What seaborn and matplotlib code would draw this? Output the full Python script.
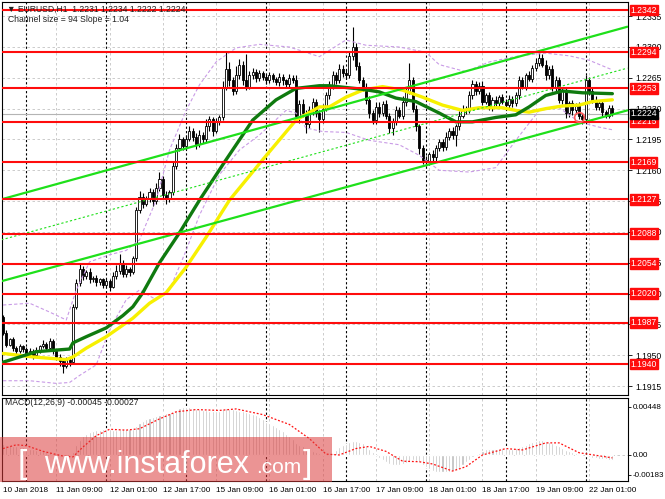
import numpy as np
import matplotlib
matplotlib.use("Agg")
import matplotlib.pyplot as plt
import seaborn as sns
from matplotlib.patches import Rectangle
from matplotlib.transforms import blended_transform_factory

# EURUSD H1, 10 Jan 17:00 -> 22 Jan 08:00, one list per trading day
first_open = 1.1993
close_jan10 = [1.1975, 1.1962, 1.1968, 1.1958, 1.1955, 1.1960, 1.1957]
close_jan11 = [1.1952, 1.1955, 1.1950, 1.1956, 1.1960, 1.1963, 1.1958, 1.1966,
               1.1955, 1.1948, 1.1943, 1.1938, 1.1945, 1.1942, 1.2005, 1.2032,
               1.2048, 1.2040, 1.2045, 1.2036, 1.2038, 1.2033, 1.2036, 1.2030]
close_jan12 = [1.2034, 1.2028, 1.2040, 1.2046, 1.2055, 1.2042, 1.2048, 1.2044,
               1.2060, 1.2115, 1.2130, 1.2122, 1.2128, 1.2135, 1.2125, 1.2140,
               1.2150, 1.2132, 1.2128, 1.2135, 1.2165, 1.2185, 1.2195, 1.2188]
close_jan15 = [1.2196, 1.2205, 1.2198, 1.2190, 1.2200, 1.2195, 1.2210, 1.2218,
               1.2205, 1.2215, 1.2220, 1.2255, 1.2275, 1.2262, 1.2250, 1.2268,
               1.2280, 1.2262, 1.2255, 1.2268, 1.2272, 1.2265, 1.2270, 1.2266]
close_jan16 = [1.2262, 1.2268, 1.2264, 1.2260, 1.2266, 1.2262, 1.2258, 1.2265,
               1.2262, 1.2222, 1.2235, 1.2225, 1.2212, 1.2228, 1.2238, 1.2225,
               1.2218, 1.2230, 1.2245, 1.2255, 1.2268, 1.2262, 1.2275, 1.2270]
close_jan17 = [1.2268, 1.2290, 1.2300, 1.2278, 1.2262, 1.2254, 1.2240, 1.2225,
               1.2217, 1.2232, 1.2225, 1.2235, 1.2222, 1.2208, 1.2215, 1.2228,
               1.2222, 1.2238, 1.2250, 1.2262, 1.2230, 1.2210, 1.2185, 1.2172]
close_jan18 = [1.2170, 1.2178, 1.2175, 1.2185, 1.2192, 1.2186, 1.2198, 1.2205,
               1.2200, 1.2210, 1.2222, 1.2230, 1.2228, 1.2245, 1.2258, 1.2250,
               1.2256, 1.2238, 1.2245, 1.2232, 1.2240, 1.2236, 1.2243, 1.2238]
close_jan19 = [1.2234, 1.2241, 1.2236, 1.2245, 1.2262, 1.2255, 1.2268, 1.2264,
               1.2276, 1.2282, 1.2288, 1.2280, 1.2268, 1.2275, 1.2255, 1.2262,
               1.2240, 1.2250, 1.2225, 1.2236, 1.2228, 1.2233, 1.2222, 1.2218]
close_jan22 = [1.2262, 1.2250, 1.2240, 1.2232, 1.2236, 1.2226, 1.2222, 1.2231, 1.2224]

# upper / lower shadows beyond the body, in pips
wick_hi = [3, 4, 2, 3, 2, 3, 2,
           2, 3, 2, 3, 2, 4, 2, 3, 2, 2, 3, 2, 3, 2, 3, 4, 5, 3, 2, 4, 2, 3, 2, 2,
           3, 2, 4, 6, 10, 3, 4, 2, 3, 3, 6, 4, 3, 5, 4, 6, 8, 3, 4, 3, 4, 5, 6, 3,
           4, 5, 3, 4, 6, 3, 8, 4, 3, 4, 3, 6, 21, 8, 4, 10, 6, 4, 30, 5, 4, 3, 4, 3,
           3, 4, 3, 2, 4, 3, 2, 4, 3, 6, 5, 6, 4, 5, 4, 3, 4, 5, 4, 6, 5, 4, 6, 4,
           5, 4, 23, 4, 5, 4, 5, 4, 3, 6, 5, 4, 5, 3, 4, 5, 4, 6, 4, 20, 4, 4, 3, 4,
           4, 3, 5, 4, 3, 4, 5, 3, 4, 3, 5, 4, 3, 5, 4, 3, 4, 5, 3, 4, 3, 4, 3, 4,
           3, 4, 3, 4, 5, 4, 3, 5, 4, 6, 7, 4, 5, 3, 4, 5, 4, 3, 4, 3, 4, 3, 4, 3,
           6, 4, 3, 4, 3, 4, 3, 3, 3]
wick_lo = [2, 3, 2, 3, 4, 2, 3,
           3, 2, 4, 2, 3, 2, 3, 2, 4, 3, 5, 8, 3, 4, 2, 3, 3, 5, 3, 4, 3, 4, 3, 4,
           3, 5, 2, 3, 4, 3, 3, 4, 2, 3, 4, 5, 3, 4, 6, 3, 4, 5, 6, 4, 3, 4, 3, 5,
           4, 3, 5, 6, 3, 4, 3, 5, 6, 3, 4, 3, 4, 6, 5, 3, 4, 5, 4, 3, 4, 5, 4, 3,
           4, 3, 4, 3, 4, 5, 3, 4, 3, 6, 8, 5, 10, 4, 5, 4, 15, 4, 3, 4, 3, 4, 3, 4,
           4, 3, 5, 4, 3, 4, 5, 6, 4, 5, 4, 3, 4, 6, 8, 4, 3, 4, 5, 3, 4, 5, 6, 5,
           5, 4, 5, 4, 3, 4, 3, 4, 5, 12, 4, 3, 4, 3, 4, 5, 3, 4, 3, 4, 5, 3, 4, 3,
           4, 3, 4, 3, 4, 3, 4, 3, 4, 3, 4, 3, 5, 4, 5, 6, 4, 5, 6, 4, 5, 4, 4, 5,
           4, 5, 4, 3, 4, 5, 3, 3, 2]

# moving averages (bar index, price)
ma_fast_bar = [0, 10, 20, 21, 25, 31, 36, 39, 42, 47, 53, 59, 67, 75, 82, 88, 95,
               98, 108, 113, 118, 124, 131, 136, 141, 148, 154, 158, 163, 168, 174, 183]
ma_fast_val = [1.1942, 1.1954, 1.1957, 1.1964, 1.1971, 1.1981, 1.1995, 1.2005, 1.2021,
               1.2055, 1.2089, 1.2126, 1.2172, 1.2217, 1.2240, 1.2253, 1.2256, 1.2256,
               1.2252, 1.2249, 1.2242, 1.2238, 1.2225, 1.2215, 1.2215, 1.2220, 1.2223,
               1.2232, 1.2245, 1.2250, 1.2248, 1.2247]
ma_slow_bar = [0, 9, 19, 21, 25, 31, 39, 44, 49, 55, 61, 68, 78, 88, 95, 98, 103, 108,
               114, 120, 126, 132, 138, 143, 150, 154, 158, 163, 168, 173, 177, 183]
ma_slow_val = [1.1952, 1.1948, 1.1945, 1.1948, 1.1958, 1.1971, 1.1992, 1.2009, 1.2021,
               1.2050, 1.2084, 1.2126, 1.2172, 1.2217, 1.2232, 1.2232, 1.2243, 1.2251,
               1.2255, 1.2251, 1.2243, 1.2234, 1.2228, 1.2231, 1.2231, 1.2228, 1.2226,
               1.2230, 1.2233, 1.2234, 1.2238, 1.2240]

# envelope bands (dashed lavender)
band_up_bar = [0, 8, 14, 19, 22, 26, 32, 37, 41, 46, 50, 55, 59, 64, 70, 77, 86, 95,
               103, 109, 119, 127, 131, 139, 146, 155, 163, 170, 176, 183]
band_up_val = [1.2007, 1.2009, 1.1999, 1.1990, 1.2024, 1.2056, 1.2064, 1.2069, 1.2081,
               1.2126, 1.2183, 1.2228, 1.2257, 1.2283, 1.2299, 1.2303, 1.2300, 1.2289,
               1.2308, 1.2302, 1.2300, 1.2294, 1.2280, 1.2272, 1.2283, 1.2290, 1.2293,
               1.2290, 1.2285, 1.2274]
band_dn_bar = [0, 8, 16, 20, 23, 28, 32, 37, 41, 46, 50, 55, 59, 65, 71, 77, 85, 88,
               91, 96, 103, 110, 119, 125, 131, 140, 148, 154, 161, 167, 173, 179, 183]
band_dn_val = [1.1921, 1.1921, 1.1918, 1.1919, 1.1927, 1.1939, 1.1979, 1.2013, 1.2024,
               1.2013, 1.2024, 1.2069, 1.2109, 1.2155, 1.2183, 1.2200, 1.2228, 1.2225,
               1.2208, 1.2204, 1.2203, 1.2194, 1.2189, 1.2177, 1.2160, 1.2158, 1.2163,
               1.2194, 1.2228, 1.2231, 1.2215, 1.2209, 1.2206]

# equidistant channel (left edge, right edge)
chan_bar = [-0.5, 187.5]
chan_upper = [1.2127, 1.2323]
chan_mid = [1.2081, 1.2276]
chan_lower = [1.2034, 1.2228]

levels = [1.2342, 1.2294, 1.2253, 1.2215, 1.2169, 1.2127, 1.2088, 1.2054, 1.2020, 1.1987, 1.1940]
price_ticks = [1.1915, 1.1950, 1.1985, 1.2020, 1.2055, 1.2090, 1.2125, 1.2160,
               1.2195, 1.2230, 1.2265, 1.2300, 1.2335]
bid_price = 1.2224
alert_bar, alert_price = 173, 1.2220

# MACD(12,26,9) main values, 1e-5 units
macd_main = [100, 95, 90, 85, 80, 75, 70,
             65, 58, 52, 45, 40, 35, 30, 26, 20, 14, 8, 2, -3, -6, 30, 90, 140, 175,
             200, 215, 225, 232, 236, 238,
             240, 238, 236, 235, 240, 242, 240, 238, 245, 270, 300, 320, 335, 345,
             355, 365, 375, 385, 390, 395, 405, 420, 435, 445,
             448, 445, 440, 432, 425, 420, 418, 415, 410, 408, 412, 425, 435, 432,
             425, 420, 415, 410, 405, 395, 385, 370, 355, 340,
             311, 295, 280, 262, 245, 225, 200, 175, 145, 113, 95, 80, 65, 50, 38,
             28, 21, 12, 2, -8, 20, 45, 70, 90,
             105, 120, 128, 132, 125, 110, 85, 60, 30, 0, -25, -50, -70, -85, -95,
             -97, -90, -85, -75, -60, -50, -55, -70, -90,
             -110, -130, -145, -155, -160, -163, -160, -155, -150, -140, -120, -95,
             -70, -45, -20, 0, 20, 40, 55, 60, 60, 58, 60, 62,
             62, 60, 58, 62, 70, 80, 95, 110, 120, 130, 138, 140, 135, 125, 110, 95,
             80, 65, 50, 40, 30, 20, 10, 0,
             -10, -20, -25, -30, -35, -38, -40, -43, -45]
signal_bar = [0, 4, 7, 12, 18, 21, 24, 28, 32, 37, 41, 47, 52, 58, 65, 70, 78, 86, 92,
              97, 101, 106, 110, 115, 120, 125, 129, 135, 139, 144, 151, 156, 163, 167,
              173, 183]
signal_val = [60, 95, 87, 34, -10, -18, 74, 180, 240, 232, 245, 337, 403, 424, 416, 430,
              377, 285, 153, 8, 0, 60, 80, 34, -58, -63, -84, -150, -110, 0, 60, 47,
              113, 113, 21, -27]

tick_bars = [0, 16, 32, 48, 64, 80, 96, 112, 128, 144, 160, 176]
tick_labels = ["10 Jan 2018", "11 Jan 09:00", "12 Jan 01:00", "12 Jan 17:00",
               "15 Jan 09:00", "16 Jan 01:00", "16 Jan 17:00", "17 Jan 09:00",
               "18 Jan 01:00", "18 Jan 17:00", "19 Jan 09:00", "22 Jan 01:00"]
day_bars = [7, 31, 55, 79, 103, 127, 151, 175]

# ---- assemble candles ----
closes = np.array(close_jan10 + close_jan11 + close_jan12 + close_jan15 + close_jan16
                  + close_jan17 + close_jan18 + close_jan19 + close_jan22)
bars = np.arange(len(closes))
opens = np.r_[first_open, closes[:-1]]
highs = np.maximum(opens, closes) + np.array(wick_hi) * 1e-4
lows = np.minimum(opens, closes) - np.array(wick_lo) * 1e-4
bull = closes >= opens

sns.set_theme(style="white")
plt.rcParams["font.family"] = ["Liberation Sans", "DejaVu Sans"]
fs = 6.2

fig = plt.figure(figsize=(6.65, 4.99), dpi=100)
ax = fig.add_axes([2 / 665, 104 / 499, 626 / 665, 393 / 499])
axm = fig.add_axes([2 / 665, 18 / 499, 626 / 665, 83 / 499], sharex=ax)

grid_kw = dict(color="#c4c4c4", lw=0.6, ls=(0, (3, 3)), zorder=0)
sep_kw = dict(color="black", lw=0.8, ls=(0, (2, 2)), zorder=1)
for a in (ax, axm):
    for b in tick_bars[1:]:
        a.axvline(b, **grid_kw)
    for b in day_bars:
        a.axvline(b, **sep_kw)
    for s in a.spines.values():
        s.set_color("black")
        s.set_linewidth(0.8)
for p in price_ticks:
    ax.axhline(p, **grid_kw)
ax.axhline(bid_price, color="#b4b4b4", lw=0.8, zorder=2)

# candles
ax.vlines(bars, lows, highs, color="black", lw=0.8, zorder=3)
body = np.maximum(np.abs(closes - opens), 0.00004)
ax.bar(bars, body, bottom=np.minimum(opens, closes), width=0.62,
       color=np.where(bull, "white", "black"), edgecolor="black", linewidth=0.6, zorder=4)

# indicators
band_kw = dict(color="#c99be6", lw=0.8, linestyle=(0, (3, 2)), zorder=5)
sns.lineplot(x=band_up_bar, y=band_up_val, ax=ax, **band_kw)
sns.lineplot(x=band_dn_bar, y=band_dn_val, ax=ax, **band_kw)
sns.lineplot(x=ma_slow_bar, y=ma_slow_val, ax=ax, color="#f7f000", lw=2.4, zorder=6)
sns.lineplot(x=ma_fast_bar, y=ma_fast_val, ax=ax, color="#0f7a0f", lw=2.4, zorder=6)
sns.lineplot(x=chan_bar, y=chan_upper, ax=ax, color="#1ee01a", lw=1.6, zorder=7)
sns.lineplot(x=chan_bar, y=chan_lower, ax=ax, color="#1ee01a", lw=1.6, zorder=7)
sns.lineplot(x=chan_bar, y=chan_mid, ax=ax, color="#1ee01a", lw=0.8,
             linestyle=(0, (2, 2)), zorder=7)
ax.plot(alert_bar, alert_price, "o", mfc="none", mec="#ff5a5a", ms=7, mew=1.2, zorder=9)

ylab = blended_transform_factory(ax.transAxes, ax.transData)
box = dict(boxstyle="square,pad=0.08")
for lv in levels:
    ax.axhline(lv, color="#ff0c0c", lw=1.5, zorder=8)
    ax.text(1.004, lv, f"{lv:.4f}", transform=ylab, ha="left", va="center",
            fontsize=fs, color="white", zorder=20, clip_on=False,
            bbox=dict(box, fc="#ff0c0c", ec="#ff0c0c"))
ax.text(1.004, bid_price, f"{bid_price:.4f}", transform=ylab, ha="left", va="center",
        fontsize=fs, color="white", zorder=21, clip_on=False,
        bbox=dict(box, fc="black", ec="black"))

ax.set_ylim(1.19048, 1.23511)
ax.set_xlim(-0.3, 187.7)
ax.set_xlabel("")
ax.set_ylabel("")
ax.yaxis.tick_right()
ax.set_yticks(price_ticks)
ax.set_yticklabels([f"{p:.4f}" for p in price_ticks])
ax.tick_params(axis="y", labelsize=fs, length=3, width=0.6, pad=2, colors="black")
ax.tick_params(axis="x", bottom=False, labelbottom=False)

ax.text(0.008, 0.982, "\u25bc EURUSD,H1  1.2231 1.2234 1.2222 1.2224", transform=ax.transAxes,
        fontsize=fs, va="center", ha="left", zorder=10, color="#202020")
ax.text(0.01, 0.955, "Channel size = 94 Slope = 1.04", transform=ax.transAxes,
        fontsize=fs, va="center", ha="left", zorder=10, color="#202020")

# MACD pane
axm.bar(bars, np.array(macd_main) * 1e-5, width=0.62, color="#bdbdbd", zorder=2)
sns.lineplot(x=signal_bar, y=np.array(signal_val) * 1e-5, ax=axm, color="#ff1010",
             lw=0.9, linestyle=(0, (1.5, 1.5)), zorder=3)
axm.axhline(0, **grid_kw)
axm.set_ylim(-0.00243, 0.00532)
axm.set_xlabel("")
axm.set_ylabel("")
axm.yaxis.tick_right()
axm.set_yticks([0.00448, 0.0, -0.00183])
axm.set_yticklabels(["0.00448", "0.00", "-0.00183"])
axm.tick_params(axis="y", labelsize=5.8, length=2, width=0.6, pad=1.5, colors="black")
axm.set_xticks(tick_bars)
axm.set_xticklabels(tick_labels, ha="left")
axm.tick_params(axis="x", labelsize=5.9, length=3, width=0.6, pad=1.5, colors="black")
axm.set_xlim(-0.3, 187.7)
axm.text(0.005, 0.94, "MACD(12,26,9) -0.00045 -0.00027", transform=axm.transAxes,
         fontsize=fs, va="center", ha="left", zorder=10, color="#202020")

# watermark
fig.patches.append(Rectangle((0, 17 / 499), 332 / 665, 45 / 499, transform=fig.transFigure,
                             facecolor="#dc3c3c", alpha=0.55, edgecolor="none", zorder=30))
fig.text(18 / 665, 26 / 499, "[", fontsize=24, color="white", zorder=31)
fig.text(44 / 665, 26 / 499, "www.instaforex", fontsize=22, color="white", zorder=31)
fig.text(256 / 665, 26 / 499, ".com", fontsize=15, color="white", zorder=31)
fig.text(303 / 665, 26 / 499, "]", fontsize=24, color="white", zorder=31)

fig.savefig("out.png", dpi=100)
